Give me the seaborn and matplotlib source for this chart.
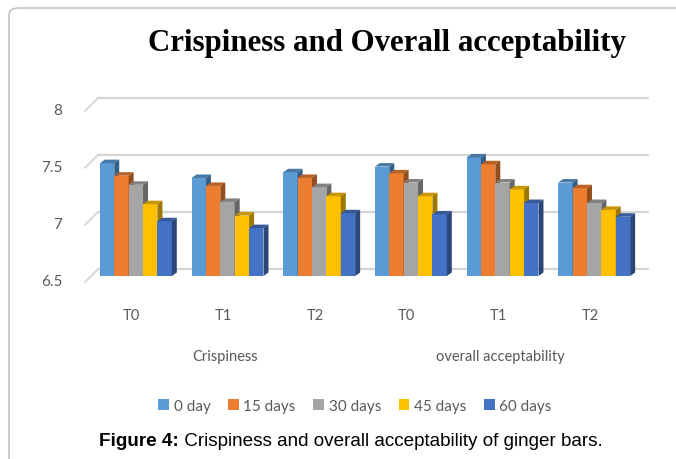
import pandas as pd
import matplotlib
matplotlib.use("Agg")
import matplotlib.pyplot as plt
import matplotlib.transforms as mtransforms
from matplotlib.patches import Polygon, FancyBboxPatch, Patch
from matplotlib.colors import to_rgb
import seaborn as sns

# dados
atributos = ["Crispiness", "overall acceptability"]
tratamentos = ["T0", "T1", "T2"]
armazenamento = ["0 day", "15 days", "30 days", "45 days", "60 days"]

dia_0 = [7.49, 7.36, 7.41, 7.46, 7.54, 7.32]
dia_15 = [7.38, 7.29, 7.36, 7.40, 7.48, 7.27]
dia_30 = [7.30, 7.15, 7.28, 7.32, 7.32, 7.14]
dia_45 = [7.13, 7.03, 7.20, 7.20, 7.26, 7.08]
dia_60 = [6.98, 6.92, 7.05, 7.04, 7.14, 7.02]

cores = ["#5B9BD5", "#ED7D31", "#A5A5A5", "#FFC000", "#4472C4"]
cinza_texto = "#595959"

posicoes = [f"{a}|{t}" for a in atributos for t in tratamentos]
series = [dia_0, dia_15, dia_30, dia_45, dia_60]
df = pd.DataFrame([
    {"slot": posicoes[i], "storage": s, "value": v[i]}
    for s, v in zip(armazenamento, series)
    for i in range(len(posicoes))
])

sns.set_theme(style="white")
plt.rcParams["font.family"] = ["Lato", "DejaVu Sans"]

fig = plt.figure(figsize=(6.76, 4.6), dpi=100)
ax = fig.add_axes([90 / 676, 1 - 277 / 460, 550 / 676, 171 / 460])

sns.barplot(data=df, x="slot", y="value", hue="storage", order=posicoes,
            hue_order=armazenamento, palette=cores, saturation=1, width=0.785,
            legend=False, ax=ax)

ax.set_xlim(-0.5, 5.5)
ax.set_ylim(6.5, 8)
for s in ax.spines.values():
    s.set_visible(False)

# escala em pixels por unidade de dado
p0 = ax.transData.transform((0, 6.5))
p1 = ax.transData.transform((1, 7.5))
sx = p1[0] - p0[0]
sy = p1[1] - p0[1]
dx, dy = 5 / sx, 3.5 / sy

# faces 3D das barras
barras = sorted(ax.patches, key=lambda p: p.get_x())
for i, p in enumerate(barras):
    x0, w, h = p.get_x(), p.get_width(), p.get_height()
    cor = to_rgb(p.get_facecolor())
    z = 3 + i * 0.01
    p.set_zorder(z)
    p.set_edgecolor("none")
    topo = Polygon([(x0, h), (x0 + w, h), (x0 + w + dx, h + dy), (x0 + dx, h + dy)],
                   closed=True, facecolor=[c * 0.78 for c in cor], edgecolor="none",
                   zorder=z + 0.001)
    lado = Polygon([(x0 + w, 6.5), (x0 + w + dx, 6.5 + dy), (x0 + w + dx, h + dy), (x0 + w, h)],
                   closed=True, facecolor=[c * 0.62 for c in cor], edgecolor="none",
                   zorder=z + 0.002)
    ax.add_patch(topo)
    ax.add_patch(lado)

# grade na parede do fundo + linhas diagonais da parede lateral
gx, gy = 8 / sx, 7 / sy
for y in [6.5, 7, 7.5, 8]:
    ax.plot([-0.5 + gx, 5.5 + gx], [y + gy, y + gy], color="#d4d4d4", lw=1.6,
            clip_on=False, zorder=1)
    ax.plot([-0.5 - 5 / sx, -0.5 + gx], [y - 6 / sy, y + gy], color="#d4d4d4",
            lw=1.3, clip_on=False, zorder=1)

ax.set_yticks([6.5, 7, 7.5, 8])
ax.set_yticklabels(["6.5", "7", "7.5", "8"])
ax.set_xticks(range(6))
ax.set_xticklabels(tratamentos * 2)
ax.set_xlabel("")
ax.set_ylabel("")
ax.tick_params(left=False, bottom=False, labelsize=11, labelcolor=cinza_texto)
ax.tick_params(axis="y", pad=14)
ax.tick_params(axis="x", pad=17, labelsize=10.5)
for lbl in ax.get_yticklabels():
    lbl.set_transform(lbl.get_transform() + mtransforms.ScaledTranslation(0, -0.04, fig.dpi_scale_trans))
for lbl in ax.get_xticklabels():
    lbl.set_transform(lbl.get_transform() + mtransforms.ScaledTranslation(-0.04, 0, fig.dpi_scale_trans))

# rótulos dos grupos
for k, nome in enumerate(atributos):
    ax.annotate(nome, xy=(1 + 3 * k, 6.5), xytext=(-2, -80), textcoords="offset pixels",
                ha="center", va="center", fontsize=10.5, color=cinza_texto,
                annotation_clip=False)

# legenda
alcas = [Patch(facecolor=c, edgecolor="none") for c in cores]
fig.legend(alcas, armazenamento, loc="center", bbox_to_anchor=(355 / 676, 1 - 407 / 460),
           ncol=5, frameon=False, handlelength=0.7, handleheight=0.7, handletextpad=0.3,
           columnspacing=1.15, fontsize=11, labelcolor=cinza_texto)

# título
fig.text(387 / 676, 1 - 44 / 460, "Crispiness and Overall acceptability",
         family="Liberation Serif", weight="bold", size=22.2, ha="center", va="center",
         color="black")

# moldura do gráfico
moldura = FancyBboxPatch((9 / 676, -0.1), 1.2, 1.1 - 9 / 460,
                         boxstyle="round,pad=0,rounding_size=0.015",
                         transform=fig.transFigure, facecolor="none",
                         edgecolor="#c4c4c4", lw=1.2)
fig.add_artist(moldura)

# legenda da figura
t1 = fig.text(99 / 676, 1 - 442 / 460, "Figure 4:", family="Liberation Sans",
              weight="bold", size=13.6, ha="left", va="center", color="black")
ax.annotate(" Crispiness and overall acceptability of ginger bars.", xy=(1, 0),
            xycoords=t1, ha="left", va="bottom", family="Liberation Sans", size=13.6,
            color="black", annotation_clip=False)

plt.savefig("out.png", dpi=100)
plt.close()
